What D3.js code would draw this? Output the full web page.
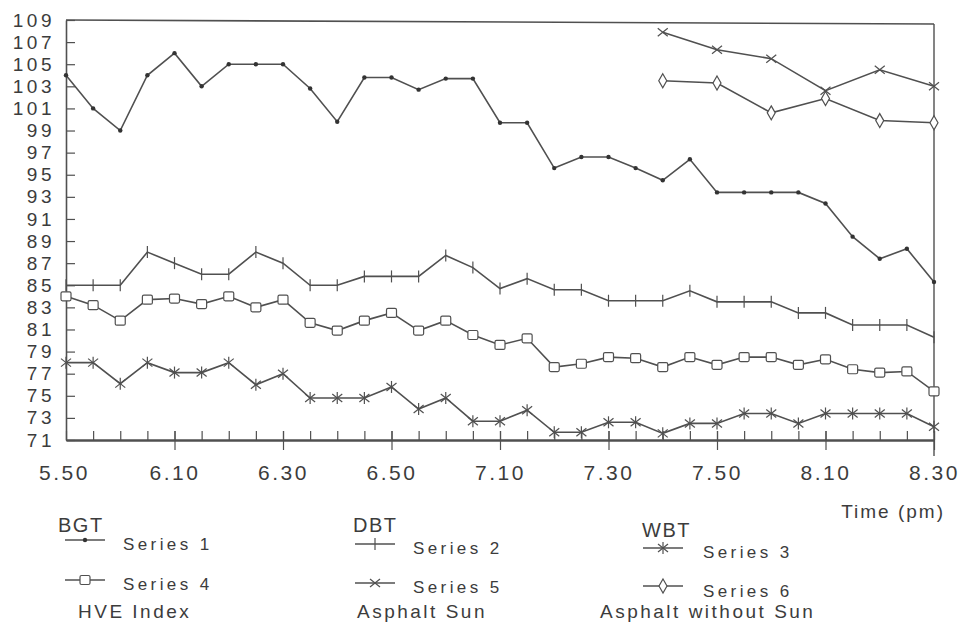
<!DOCTYPE html>
<html><head><meta charset="utf-8">
<script src="https://cdn.jsdelivr.net/npm/d3@7"></script>
<style>
body{margin:0;background:#fff;}
text{font-family:"Liberation Sans",Arial,sans-serif;fill:#3c3c3c;}
</style></head>
<body><svg id="c" width="964" height="626"></svg>
<script>
const times = ["5.50","5.55","6.00","6.05","6.10","6.15","6.20","6.25","6.30","6.35","6.40","6.45","6.50","6.55","7.00","7.05","7.10","7.15","7.20","7.25","7.30","7.35","7.40","7.45","7.50","7.55","8.00","8.05","8.10","8.15","8.20","8.25","8.30"];
const xTickLabels = ["6.10","6.30","6.50","7.10","7.30","7.50","8.10","8.30"];
const xFirstLabel = "5.50";
const yTicks = [71,73,75,77,79,81,83,85,87,89,91,93,95,97,99,101,103,105,107,109];

const series1 = [104,101,99,104,106,103,105,105,105,102.8,99.8,103.8,103.8,102.7,103.7,103.7,99.7,99.7,95.6,96.6,96.6,95.6,94.5,96.4,93.4,93.4,93.4,93.4,92.4,89.4,87.4,88.3,85.3];
const series2 = [85,85,85,88,87,86,86,88,87,85,85,85.8,85.8,85.8,87.7,86.6,84.7,85.6,84.6,84.6,83.6,83.6,83.6,84.5,83.5,83.5,83.5,82.5,82.5,81.4,81.4,81.4,80.3];
const series3 = [78,78,76.1,78,77.1,77.1,78,76,77,74.8,74.8,74.8,75.8,73.8,74.8,72.7,72.7,73.7,71.7,71.7,72.6,72.6,71.6,72.5,72.5,73.4,73.4,72.5,73.4,73.4,73.4,73.4,72.2];
const series4 = [84,83.2,81.8,83.7,83.8,83.3,84,83,83.7,81.6,80.9,81.8,82.5,80.9,81.8,80.5,79.6,80.2,77.6,77.9,78.5,78.4,77.6,78.5,77.8,78.5,78.5,77.8,78.3,77.4,77.1,77.2,75.4];
const series5 = [null,null,null,null,null,null,null,null,null,null,null,null,null,null,null,null,null,null,null,null,null,null,107.9,null,106.3,null,105.5,null,102.6,null,104.5,null,103.0];
const series6 = [null,null,null,null,null,null,null,null,null,null,null,null,null,null,null,null,null,null,null,null,null,null,103.5,null,103.3,null,100.6,null,101.9,null,99.9,null,99.7];

const legendGroups = ["BGT","DBT","WBT"];
const legendNames = ["Series 1","Series 4","Series 2","Series 5","Series 3","Series 6"];
const legendBottom = ["HVE Index","Asphalt Sun","Asphalt without Sun"];

const svg = d3.select("#c");
const stroke = "#505050";
const L=66, R=934, T=20, B=440;
const x = d3.scalePoint().domain(times).range([L,R]);
const y = d3.scaleLinear().domain([71,109]).range([B,T]);

// frame
svg.append("line").attr("x1",L).attr("x2",R).attr("y1",T).attr("y2",T+4).attr("stroke",stroke).attr("stroke-width",1.6);
svg.append("line").attr("x1",R).attr("x2",R).attr("y1",T+4).attr("y2",B+16).attr("stroke",stroke).attr("stroke-width",1.4);

// y axis
const ya = svg.append("g").attr("transform",`translate(${L},0)`)
  .call(d3.axisLeft(y).tickValues(yTicks).tickSizeInner(-9).tickSizeOuter(0).tickPadding(11).tickFormat(d3.format("d")));
ya.select(".domain").attr("stroke",stroke).attr("stroke-width",1.6);
ya.selectAll(".tick line").attr("stroke",stroke).attr("stroke-width",1.2);
ya.selectAll(".tick text").attr("font-size",19).attr("letter-spacing","3.5px").style("fill","#3c3c3c")
  .attr("font-family","Liberation Sans, Arial, sans-serif");

// x axis minor ticks (upward)
const xm = svg.append("g").attr("transform",`translate(0,${B})`)
  .call(d3.axisBottom(x).tickValues(times).tickSizeInner(-9).tickSizeOuter(0).tickFormat(""));
xm.select(".domain").attr("stroke",stroke).attr("stroke-width",2.6);
xm.selectAll(".tick line").attr("stroke",stroke).attr("stroke-width",1.2);
// x axis major ticks (downward) with labels
const xa = svg.append("g").attr("transform",`translate(0,${B})`)
  .call(d3.axisBottom(x).tickValues([xFirstLabel].concat(xTickLabels)).tickSizeInner(10).tickSizeOuter(0).tickPadding(15));
xa.select(".domain").remove();
xa.selectAll(".tick line").attr("stroke",stroke).attr("stroke-width",1.2).attr("y1",-9)
  .filter(d=>d===xFirstLabel).remove();
xa.selectAll(".tick text").attr("font-size",21).attr("letter-spacing","2.5px").style("fill","#3c3c3c")
  .attr("font-family","Liberation Sans, Arial, sans-serif");
xa.selectAll(".tick text").filter(d=>d===xFirstLabel).attr("dx",-2);

svg.append("text").attr("x",945).attr("y",518).attr("text-anchor","end").attr("font-size",19).attr("letter-spacing","2px").text("Time (pm)");

// markers
function marker(g, type, cx, cy){
  const s = g.append("g").attr("transform",`translate(${cx},${cy})`).attr("stroke",stroke).attr("fill","none").attr("stroke-width",1.2);
  if(type==="dot") s.append("circle").attr("r",2.2).attr("fill","#333").attr("stroke","none");
  if(type==="plus") s.append("line").attr("y1",-6).attr("y2",6);
  if(type==="star"){ s.append("line").attr("y1",-6).attr("y2",6); s.append("line").attr("x1",-5).attr("x2",5).attr("y1",-4).attr("y2",4); s.append("line").attr("x1",-5).attr("x2",5).attr("y1",4).attr("y2",-4);}
  if(type==="square") s.append("rect").attr("x",-5).attr("y",-4.5).attr("width",10).attr("height",9).attr("rx",1.5).attr("fill","#fff");
  if(type==="cross"){ s.append("line").attr("x1",-5).attr("x2",5).attr("y1",-4).attr("y2",4); s.append("line").attr("x1",-5).attr("x2",5).attr("y1",4).attr("y2",-4);}
  if(type==="diamond") s.append("path").attr("d","M0,-7 L4,0 L0,7 L-4,0 Z").attr("fill","#fff");
}

const allSeries = [
  {v:series1,m:"dot"},{v:series2,m:"plus"},{v:series3,m:"star"},
  {v:series4,m:"square"},{v:series5,m:"cross"},{v:series6,m:"diamond"}
];
allSeries.forEach(s=>{
  const pts = times.map((t,i)=>({t,v:s.v[i]})).filter(d=>d.v!=null);
  const line = d3.line().x(d=>x(d.t)).y(d=>y(d.v));
  svg.append("path").attr("d",line(pts)).attr("fill","none").attr("stroke",stroke).attr("stroke-width",1.6);
  const g = svg.append("g");
  pts.forEach(d=>marker(g,s.m,x(d.t),y(d.v)));
});

// legend
const cols = [
  {gx:58, gy:532, items:[{n:0,m:"dot",lx:65,ly:540,ty:550},{n:1,m:"square",lx:65,ly:580,ty:590}], bx:78, tx:123},
  {gx:353, gy:532, items:[{n:2,m:"plus",lx:355,ly:544,ty:554},{n:3,m:"cross",lx:355,ly:583,ty:593}], bx:357, tx:413},
  {gx:642, gy:537, items:[{n:4,m:"star",lx:643,ly:548,ty:558},{n:5,m:"diamond",lx:643,ly:586,ty:597}], bx:600, tx:703}
];
cols.forEach((c,ci)=>{
  svg.append("text").attr("x",c.gx).attr("y",c.gy).attr("font-size",20).attr("letter-spacing","1.5px").text(legendGroups[ci]);
  c.items.forEach(it=>{
    svg.append("line").attr("x1",it.lx).attr("x2",it.lx+40).attr("y1",it.ly).attr("y2",it.ly).attr("stroke",stroke).attr("stroke-width",1.4);
    const g = svg.append("g");
    marker(g,it.m,it.lx+20,it.ly);
    svg.append("text").attr("x",c.tx).attr("y",it.ty).attr("font-size",17).attr("letter-spacing","3.4px").text(legendNames[it.n]);
  });
  svg.append("text").attr("x",c.bx).attr("y",618).attr("font-size",19).attr("letter-spacing","2.5px").text(legendBottom[ci]);
});
</script></body></html>
